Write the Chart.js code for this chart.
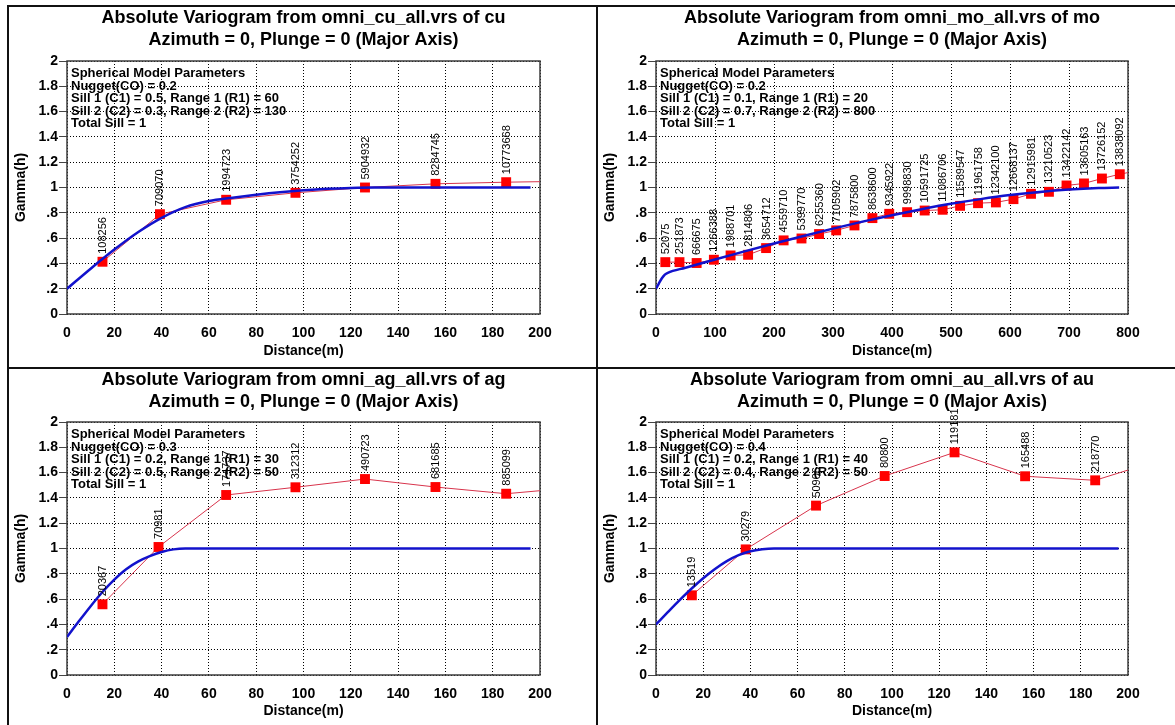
<!DOCTYPE html>
<html>
<head>
<meta charset="utf-8">
<title>Absolute Variograms</title>
<script src="https://cdn.jsdelivr.net/npm/chart.js@4.4.1/dist/chart.umd.min.js"></script>
<style>
  html, body { margin: 0; padding: 0; background: #fff; width: 1175px; height: 725px; overflow: hidden; }
  .rule { position: absolute; background: #111; }
  .panel { position: absolute; }
  .panel canvas { display: block; }
</style>
</head>
<body>
<div class="rule" style="left:7px;top:5px;width:1168px;height:2px"></div>
<div class="rule" style="left:7px;top:5px;width:2px;height:720px"></div>
<div class="rule" style="left:596px;top:5px;width:2px;height:720px"></div>
<div class="rule" style="left:7px;top:367px;width:1168px;height:2px"></div>

<div class="panel" style="left:9px;top:7px"><canvas id="cuChart" width="587" height="360"></canvas></div>
<div class="panel" style="left:598px;top:7px"><canvas id="moChart" width="577" height="360"></canvas></div>
<div class="panel" style="left:9px;top:369px"><canvas id="agChart" width="587" height="356"></canvas></div>
<div class="panel" style="left:598px;top:369px"><canvas id="auChart" width="577" height="356"></canvas></div>

<script>
// ---------- shared axis labels ----------
const yTickLabels = ['0', '.2', '.4', '.6', '.8', '1', '1.2', '1.4', '1.6', '1.8', '2'];
const subTitle = 'Azimuth = 0, Plunge = 0 (Major Axis)';

// ---------- cu ----------
const cuTitle = 'Absolute Variogram from omni_cu_all.vrs of cu';
const cuParams = ['Spherical Model Parameters', 'Nugget(CO) = 0.2', 'Sill 1 (C1) = 0.5, Range 1 (R1) = 60',
                  'Sill 2 (C2) = 0.3, Range 2 (R2) = 130', 'Total Sill = 1'];
const cuLag   = [15.0, 39.3, 67.3, 96.6, 126.0, 155.8, 185.7];
const cuGamma = [0.413, 0.789, 0.903, 0.958, 1.000, 1.029, 1.042];
const cuPairs = ['108256', '709070', '1994723', '3754252', '5904932', '8284745', '10773668'];
const cuEdgeGamma = 1.046;
const cuModelLag   = [0, 10, 20, 30, 40, 50, 60, 70, 80, 90, 100, 110, 120, 130, 196];
const cuModelGamma = [0.2, 0.358, 0.509, 0.646, 0.760, 0.845, 0.893, 0.919, 0.942, 0.962, 0.978, 0.990, 0.997, 1.0, 1.0];

// ---------- mo ----------
const moTitle = 'Absolute Variogram from omni_mo_all.vrs of mo';
const moParams = ['Spherical Model Parameters', 'Nugget(CO) = 0.2', 'Sill 1 (C1) = 0.1, Range 1 (R1) = 20',
                  'Sill 2 (C2) = 0.7, Range 2 (R2) = 800', 'Total Sill = 1'];
const moLag   = [15.8, 39.8, 68.9, 98.1, 126.4, 156.1, 186.6, 216.3, 246.6, 276.4, 305.4, 336.4, 366.8, 395.3,
                 425.6, 455.4, 485.8, 515.4, 545.8, 576.1, 605.9, 635.6, 666.0, 695.8, 725.4, 755.8, 786.1];
const moGamma = [0.410, 0.410, 0.403, 0.429, 0.463, 0.468, 0.521, 0.582, 0.597, 0.632, 0.661, 0.700, 0.758, 0.792,
                 0.805, 0.818, 0.824, 0.855, 0.876, 0.882, 0.908, 0.950, 0.966, 1.016, 1.032, 1.071, 1.105];
const moPairs = ['52075', '251873', '666675', '1266388', '1988701', '2814806', '3654712', '4559710', '5399770',
                 '6255360', '7105902', '7875800', '8638600', '9345922', '9998830', '10591725', '11086706',
                 '11589547', '11961758', '12342100', '12668137', '12915981', '13210523', '13422142',
                 '13605163', '13726152', '13838092'];
const moEdgeGamma = 1.118;
const moModelLag   = [0, 5, 10, 15, 20, 50, 100, 150, 200, 250, 300, 350, 400, 450, 500, 550, 600, 650, 700, 750, 785];
const moModelGamma = [0.2, 0.243, 0.282, 0.311, 0.326, 0.366, 0.431, 0.495, 0.557, 0.617, 0.675, 0.730, 0.781,
                      0.828, 0.871, 0.908, 0.940, 0.965, 0.984, 0.996, 1.0];

// ---------- ag ----------
const agTitle = 'Absolute Variogram from omni_ag_all.vrs of ag';
const agParams = ['Spherical Model Parameters', 'Nugget(CO) = 0.3', 'Sill 1 (C1) = 0.2, Range 1 (R1) = 30',
                  'Sill 2 (C2) = 0.5, Range 2 (R2) = 50', 'Total Sill = 1'];
const agLag   = [15.0, 38.7, 67.3, 96.6, 126.0, 155.8, 185.7];
const agGamma = [0.559, 1.012, 1.423, 1.484, 1.549, 1.486, 1.433];
const agPairs = ['20367', '70981', '174737', '312312', '490723', '681685', '885099'];
const agEdgeGamma = 1.457;
const agModelLag   = [0, 5, 10, 15, 20, 25, 30, 35, 40, 45, 50, 196];
const agModelGamma = [0.3, 0.424, 0.544, 0.656, 0.754, 0.836, 0.896, 0.939, 0.972, 0.993, 1.0, 1.0];

// ---------- au ----------
const auTitle = 'Absolute Variogram from omni_au_all.vrs of au';
const auParams = ['Spherical Model Parameters', 'Nugget(CO) = 0.4', 'Sill 1 (C1) = 0.2, Range 1 (R1) = 40',
                  'Sill 2 (C2) = 0.4, Range 2 (R2) = 50', 'Total Sill = 1'];
const auLag   = [15.2, 38.0, 67.8, 96.9, 126.5, 156.4, 186.1];
const auGamma = [0.630, 0.993, 1.339, 1.573, 1.760, 1.571, 1.539];
const auPairs = ['13519', '30279', '50906', '80800', '119181', '165488', '218770'];
const auEdgeGamma = 1.62;
const auModelLag   = [0, 5, 10, 15, 20, 25, 30, 35, 40, 45, 50, 196];
const auModelGamma = [0.4, 0.497, 0.592, 0.682, 0.765, 0.838, 0.900, 0.947, 0.978, 0.994, 1.0, 1.0];

// ---------- drawing ----------
const FONT = "'Liberation Sans', Arial, Helvetica, sans-serif";

// Plot frame, model-parameter block and rotated pair counts above each lag point
const variogramDecor = {
  id: 'variogramDecor',
  beforeDatasetsDraw(chart) {
    const a = chart.chartArea, ctx = chart.ctx;
    ctx.save();
    ctx.strokeStyle = '#3c3c3c';
    ctx.lineWidth = 1.5;
    ctx.strokeRect(a.left, a.top, a.right - a.left, a.bottom - a.top);
    ctx.restore();
  },
  afterDatasetsDraw(chart, args, opts) {
    const a = chart.chartArea, ctx = chart.ctx;
    ctx.save();
    ctx.fillStyle = '#000';
    ctx.font = 'bold 13px ' + FONT;
    ctx.textAlign = 'left';
    ctx.textBaseline = 'middle';
    opts.params.forEach((line, i) => ctx.fillText(line, a.left + 4, a.top + 12.5 + i * 12.6));

    const xs = chart.scales.x, ys = chart.scales.y;
    ctx.font = '11px ' + FONT;
    opts.lags.forEach((lag, i) => {
      const px = xs.getPixelForValue(lag);
      const py = ys.getPixelForValue(opts.gammas[i]);
      ctx.save();
      ctx.translate(px + 0.5, py - 8);
      ctx.rotate(-Math.PI / 2);
      ctx.textAlign = 'left';
      ctx.textBaseline = 'middle';
      ctx.fillText(opts.pairs[i], 0, 0);
      ctx.restore();
    });
    ctx.restore();
  }
};

function makeVariogram(id, spec) {
  const expData = spec.lag.map((h, i) => ({ x: h, y: spec.gamma[i] }));
  expData.push({ x: spec.xMax, y: spec.edge });
  const radii = spec.lag.map(() => 7).concat([0]);
  const modelData = spec.modelLag.map((h, i) => ({ x: h, y: spec.modelGamma[i] }));
  const L = spec.layout;

  new Chart(document.getElementById(id), {
    type: 'scatter',
    data: {
      datasets: [
        {
          label: 'Spherical model',
          data: modelData,
          showLine: true,
          borderColor: '#1212cc',
          borderWidth: 2.5,
          pointRadius: 0,
          cubicInterpolationMode: 'monotone',
          order: 0
        },
        {
          label: 'Experimental',
          data: expData,
          showLine: true,
          borderColor: '#d8344c',
          borderWidth: 1,
          pointStyle: 'rect',
          pointRadius: radii,
          pointHoverRadius: radii,
          pointBackgroundColor: '#ff0000',
          pointBorderWidth: 0,
          order: 1
        }
      ]
    },
    options: {
      responsive: false,
      animation: false,
      events: [],
      layout: { padding: { left: 0, top: 0, right: L.right, bottom: 0 } },
      plugins: {
        legend: { display: false },
        tooltip: { enabled: false },
        title: {
          display: true,
          fullSize: false,
          text: [spec.title, subTitle],
          color: '#000',
          font: { family: FONT, size: 18, weight: 'bold', lineHeight: 1.22 },
          padding: { top: 0, bottom: L.top - 2 * 18 * 1.22 }
        },
        variogramDecor: { params: spec.params, lags: spec.lag, gammas: spec.gamma, pairs: spec.pairs }
      },
      scales: {
        x: {
          type: 'linear',
          min: 0,
          max: spec.xMax,
          ticks: {
            stepSize: spec.xStep,
            color: '#000',
            padding: 10.5,
            font: { family: FONT, size: 14, weight: 'bold' }
          },
          grid: { color: '#000', lineWidth: 1, drawTicks: false },
          border: { display: false, dash: [1, 2] },
          title: {
            display: true,
            text: 'Distance(m)',
            color: '#000',
            font: { family: FONT, size: 14, weight: 'bold', lineHeight: 1.2 },
            padding: { top: 0, bottom: L.xTitlePad }
          },
          afterFit(scale) { scale.height = L.xAxisH; }
        },
        y: {
          type: 'linear',
          min: 0,
          max: 2,
          ticks: {
            stepSize: 0.2,
            color: '#000',
            padding: 1,
            font: { family: FONT, size: 14, weight: 'bold' },
            callback: (v, i) => yTickLabels[i]
          },
          grid: { color: '#000', lineWidth: 1, tickLength: 8, tickColor: '#444', tickBorderDash: [] },
          border: { display: false, dash: [1, 2] },
          title: {
            display: true,
            text: 'Gamma(h)',
            color: '#000',
            font: { family: FONT, size: 14, weight: 'bold', lineHeight: 1.2 },
            padding: { top: 4, bottom: 0 }
          },
          afterFit(scale) { scale.width = 58; }
        }
      }
    },
    plugins: [variogramDecor]
  });
}

makeVariogram('cuChart', {
  title: cuTitle, params: cuParams, lag: cuLag, gamma: cuGamma, pairs: cuPairs, edge: cuEdgeGamma,
  modelLag: cuModelLag, modelGamma: cuModelGamma, xMax: 200, xStep: 20,
  layout: { right: 56, top: 54, xAxisH: 53, xTitlePad: 7 }
});
makeVariogram('moChart', {
  title: moTitle, params: moParams, lag: moLag, gamma: moGamma, pairs: moPairs, edge: moEdgeGamma,
  modelLag: moModelLag, modelGamma: moModelGamma, xMax: 800, xStep: 100,
  layout: { right: 47, top: 54, xAxisH: 53, xTitlePad: 7 }
});
makeVariogram('agChart', {
  title: agTitle, params: agParams, lag: agLag, gamma: agGamma, pairs: agPairs, edge: agEdgeGamma,
  modelLag: agModelLag, modelGamma: agModelGamma, xMax: 200, xStep: 20,
  layout: { right: 56, top: 53, xAxisH: 50, xTitlePad: 5 }
});
makeVariogram('auChart', {
  title: auTitle, params: auParams, lag: auLag, gamma: auGamma, pairs: auPairs, edge: auEdgeGamma,
  modelLag: auModelLag, modelGamma: auModelGamma, xMax: 200, xStep: 20,
  layout: { right: 47, top: 53, xAxisH: 50, xTitlePad: 5 }
});
</script>
</body>
</html>
